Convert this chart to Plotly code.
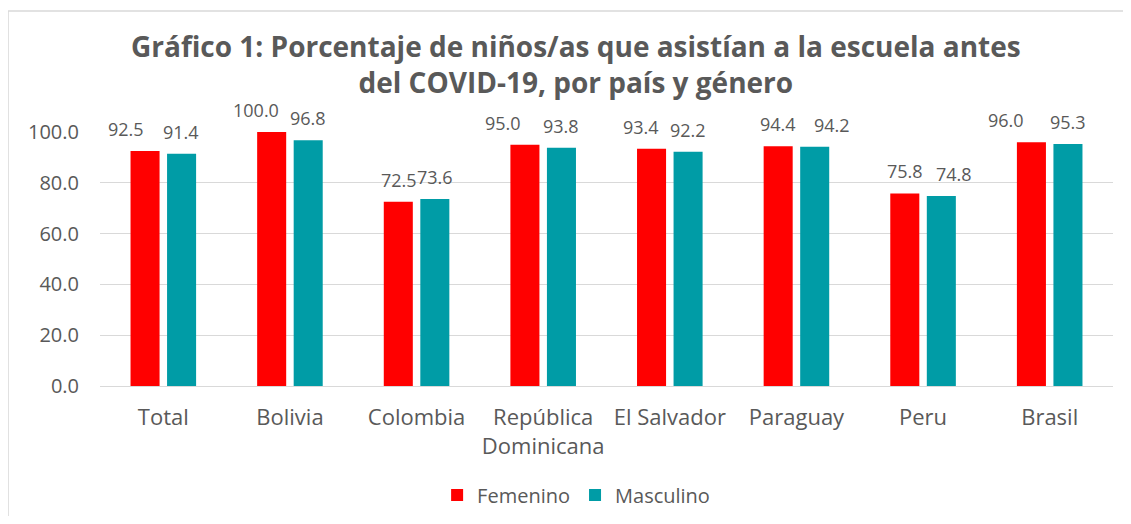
import plotly.graph_objects as go

categories = ["Total", "Bolivia", "Colombia", "República<br>Dominicana", "El Salvador", "Paraguay", "Peru", "Brasil"]
femenino = [92.5, 100.0, 72.5, 95.0, 93.4, 94.4, 75.8, 96.0]
masculino = [91.4, 96.8, 73.6, 93.8, 92.2, 94.2, 74.8, 95.3]
ytick_vals = [0, 20, 40, 60, 80, 100]
title_text = ("Gráfico 1: Porcentaje de niños/as que asistían a la escuela antes<br>"
              "del COVID-19, por país y género")

FONT = "Open Sans"
GRAY = "#595959"

# style: horizontal nudges (px) of the value labels, as in the original
fem_label_nudge = [-19, -16, 0, -22, -11, 0, 0, -26]
masc_label_nudge = [0, 0, 0, 0, 0, 18, 13, 0]
BAR_OFFSET = 18

fig = go.Figure()
for name, vals, color in [("Femenino", femenino, "#FF0000"), ("Masculino", masculino, "#009CA6")]:
    fig.add_trace(go.Bar(
        x=categories, y=vals, name=name, marker=dict(color=color, line=dict(width=0)),
        hoverinfo="x+y",
    ))

annotations = []
for i, cat in enumerate(categories):
    annotations.append(dict(x=cat, y=femenino[i], xref="x", yref="y", text=f"{femenino[i]:.1f}",
                            showarrow=False, xshift=-BAR_OFFSET + fem_label_nudge[i], yshift=22,
                            yanchor="middle", xanchor="center",
                            font=dict(family=FONT, size=18, color=GRAY)))
    annotations.append(dict(x=cat, y=masculino[i], xref="x", yref="y", text=f"{masculino[i]:.1f}",
                            showarrow=False, xshift=BAR_OFFSET + masc_label_nudge[i], yshift=22,
                            yanchor="middle", xanchor="center",
                            font=dict(family=FONT, size=18, color=GRAY)))

annotations.append(dict(
    text=f"<b>{title_text}</b>", xref="paper", yref="paper", x=0.47, y=1.268,
    xanchor="center", yanchor="middle", showarrow=False, align="center",
    font=dict(family=FONT, size=28, color=GRAY)))

border = dict(color="#D9D9D9", width=1.5)
fig.update_layout(
    width=1123, height=508,
    margin=dict(l=92, r=18, t=124, b=130, autoexpand=False),
    paper_bgcolor="white", plot_bgcolor="white",
    barmode="group", bargap=0.423, bargroupgap=0.205,
    font=dict(family=FONT, color=GRAY, size=18),
    showlegend=True,
    legend=dict(orientation="h", x=0.470, xanchor="center", y=-0.429, yanchor="middle",
                font=dict(family=FONT, size=20, color=GRAY), traceorder="normal"),
    xaxis=dict(showgrid=False, showline=False, ticks="", automargin=False,
               ticklabelstandoff=16, tickfont=dict(size=22, color=GRAY)),
    yaxis=dict(range=[0, 100], tickvals=ytick_vals, tickformat=".1f", automargin=False,
               showgrid=True, gridcolor="#D9D9D9", gridwidth=1,
               zeroline=True, zerolinecolor="#D9D9D9", zerolinewidth=1,
               showline=False, ticks="", ticklabelstandoff=20,
               tickfont=dict(size=20, color=GRAY)),
    annotations=annotations,
    shapes=[
        dict(type="line", xref="paper", yref="paper", x0=-0.0908, x1=1.2, y0=1.476, y1=1.476,
             line=border, layer="below"),
        dict(type="line", xref="paper", yref="paper", x0=-0.0908, x1=-0.0908, y0=-0.9, y1=1.476,
             line=border, layer="below"),
    ],
)

fig.write_html("out.html")
